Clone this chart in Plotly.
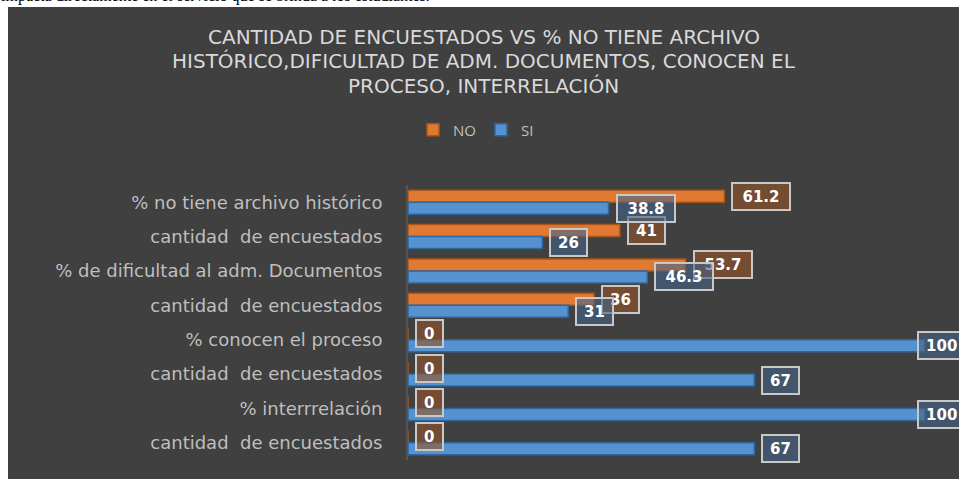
import plotly.graph_objects as go

# Survey rows (top to bottom) and the two answer series
categories = [
    "% no tiene archivo histórico",
    "cantidad  de encuestados",
    "% de dificultad al adm. Documentos",
    "cantidad  de encuestados",
    "% conocen el proceso",
    "cantidad  de encuestados",
    "% interrrelación",
    "cantidad  de encuestados",
]
no_values = [61.2, 41, 53.7, 36, 0, 0, 0, 0]
si_values = [38.8, 26, 46.3, 31, 100, 67, 100, 67]
series_names = ["NO", "SI"]

title_lines = [
    "CANTIDAD DE ENCUESTADOS VS % NO TIENE ARCHIVO",
    "HISTÓRICO,DIFICULTAD DE ADM. DOCUMENTOS, CONOCEN EL",
    "PROCESO, INTERRELACIÓN",
]
page_text = "impacta directamente en el servicio que se brinda a los estudiantes."

W, H = 959, 479
ML, MR, MT, MB = 408, 0, 185, 19
X_MAX = 106.6
BARGAP = 0.3

BG = "#404040"
ORANGE, ORANGE_EDGE = "#e07a33", "#a9561d"
BLUE, BLUE_EDGE = "#5592cf", "#2f679f"

positions = list(range(len(categories)))
ticktext = [c.replace("  ", "\u00a0 ") for c in categories]

fig = go.Figure()
fig.add_trace(go.Bar(
    name=series_names[0], y=positions, x=no_values, orientation="h",
    marker=dict(color=ORANGE, line=dict(color=ORANGE_EDGE, width=1.5)),
))
fig.add_trace(go.Bar(
    name=series_names[1], y=positions, x=si_values, orientation="h",
    marker=dict(color=BLUE, line=dict(color=BLUE_EDGE, width=1.5)),
))

# paper <-> pixel helpers for the framing elements
pw, ph = W - ML - MR, H - MT - MB
def px_x(p):
    return (p - ML) / pw
def px_y(p):
    return (H - MB - p) / ph

shapes = [dict(type="rect", xref="paper", yref="paper", layer="below",
               x0=px_x(8), x1=px_x(W + 5), y0=px_y(H + 5), y1=px_y(7),
               fillcolor=BG, line=dict(width=0))]

annotations = []
# value labels next to each bar end; labels that would run off the
# right side are pulled back over the bar end
half = (1 - BARGAP) / 4
styles = [(no_values, -half, "rgba(150,85,40,0.6)"),
          (si_values, half, "rgba(68,100,135,0.6)")]
for vals, off, fill in styles:
    for pos, v in zip(positions, vals):
        txt = f"{v:g}"
        box_w = 10.5 * len(txt) + 8
        end_px = ML + v / X_MAX * pw
        shift = 7 if end_px + 7 + box_w + 10 < W else -8
        annotations.append(dict(
            x=v, y=pos + off, xref="x", yref="y", text=f"<b>{txt}</b>",
            showarrow=False, xanchor="left", yanchor="middle", xshift=shift,
            font=dict(family="DejaVu Sans", size=15, color="white"),
            bgcolor=fill, bordercolor="#c8c8c8", borderwidth=2, borderpad=3,
            width=box_w, height=19,
        ))

# chart title, one line at a time for tighter spacing
for line, cy in zip(title_lines, [37, 61, 86]):
    annotations.append(dict(
        x=px_x(483.5), y=px_y(cy), xref="paper", yref="paper",
        text=line, showarrow=False, xanchor="center", yanchor="middle",
        font=dict(family="DejaVu Sans", size=20, color="#d9d9d9"),
    ))
annotations.append(dict(
    x=px_x(0), y=px_y(6), xref="paper", yref="paper", text=page_text,
    showarrow=False, xanchor="left", yanchor="bottom", borderpad=0,
    font=dict(family="Liberation Serif", size=16, color="black"),
))

fig.update_layout(
    width=W, height=H, autosize=False,
    margin=dict(l=ML, r=MR, t=MT, b=MB, pad=0),
    paper_bgcolor="white", plot_bgcolor="rgba(0,0,0,0)",
    barmode="group", bargap=BARGAP, bargroupgap=0,
    showlegend=True,
    legend=dict(orientation="h", x=px_x(476), y=px_y(130),
                xanchor="center", yanchor="middle", itemwidth=30,
                font=dict(family="Open Sans", size=15, color="#bfbfbf"),
                bgcolor="rgba(0,0,0,0)", traceorder="normal"),
    xaxis=dict(range=[0, X_MAX], visible=False, fixedrange=True),
    yaxis=dict(tickvals=positions, ticktext=ticktext,
               range=[len(categories) - 0.5, -0.5],
               showgrid=False, zeroline=False,
               showline=True, linecolor="#555555", linewidth=2,
               ticks="", ticklabelstandoff=20,
               tickfont=dict(family="DejaVu Sans", size=18, color="#bfbfbf")),
    shapes=shapes, annotations=annotations,
)

fig.write_html("out.html")
